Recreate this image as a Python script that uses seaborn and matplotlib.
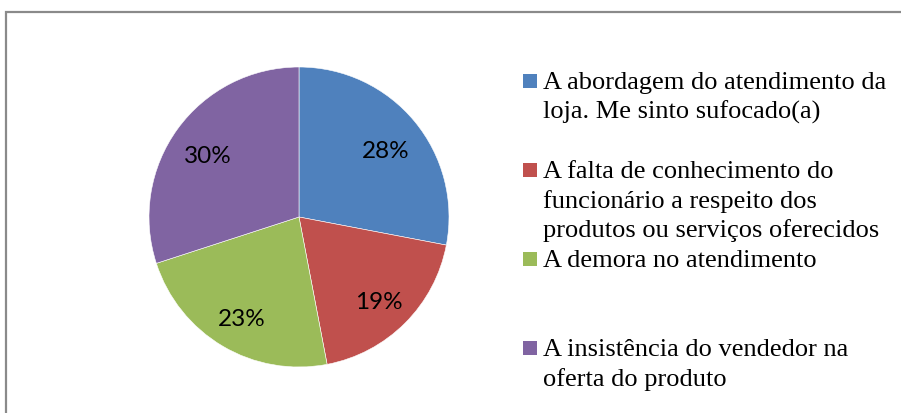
import matplotlib
matplotlib.use("Agg")
import matplotlib.pyplot as plt
import seaborn as sns
from matplotlib.patches import Rectangle

categories = [
    "A abordagem do atendimento da\nloja. Me sinto sufocado(a)",
    "A falta de conhecimento do\nfuncionário a respeito dos\nprodutos ou serviços oferecidos",
    "A demora no atendimento",
    "A insistência do vendedor na\noferta do produto",
]
values = [28, 19, 23, 30]
colors = ["#4F81BD", "#C0504D", "#9BBB59", "#8064A2"]

sns.set_theme(style="white")
palette = sns.color_palette(colors)

W, H = 901, 414
fig = plt.figure(figsize=(W / 100, H / 100), dpi=100)
fig.patch.set_facecolor("white")

# outer frame
fig.patches.append(Rectangle((6 / W, -0.1), 1.2, (H - 13) / H + 0.1,
                             transform=fig.transFigure, fill=False,
                             edgecolor="#8a8a8a", linewidth=1.6))

cx, cy, r = 299, 218, 150
ax = fig.add_axes([(cx - r) / W, (H - cy - r) / H, 2 * r / W, 2 * r / H])
wedges, texts, autotexts = ax.pie(
    values, colors=palette, startangle=90, counterclock=False,
    autopct="%1.0f%%", pctdistance=0.75, radius=1.0,
    wedgeprops=dict(edgecolor="white", linewidth=0.4),
    textprops=dict(fontsize=17.5, family=["Lato", "DejaVu Sans"], color="black"),
)
for t in autotexts:
    x, y = t.get_position()
    t.set_position((x, y - 5 / r))
ax.set_xlim(-1, 1)
ax.set_ylim(-1, 1)
ax.set_aspect("equal")
ax.axis("off")

# legend (manual, Excel-like irregular spacing)
entry_tops = [83, 172, 261, 350]
line_h = 29.5
for lab, col, ytop in zip(categories, palette, entry_tops):
    fig.patches.append(Rectangle((523 / W, 1 - (ytop + 6) / H), 14 / W, 14 / H,
                                 transform=fig.transFigure, facecolor=col,
                                 edgecolor="none"))
    for i, line in enumerate(lab.split("\n")):
        fig.text(543 / W, 1 - (ytop + i * line_h) / H, line,
                 fontsize=19, family=["Liberation Serif", "DejaVu Serif"],
                 va="center", ha="left", color="black")

fig.savefig("out.png", dpi=100)
